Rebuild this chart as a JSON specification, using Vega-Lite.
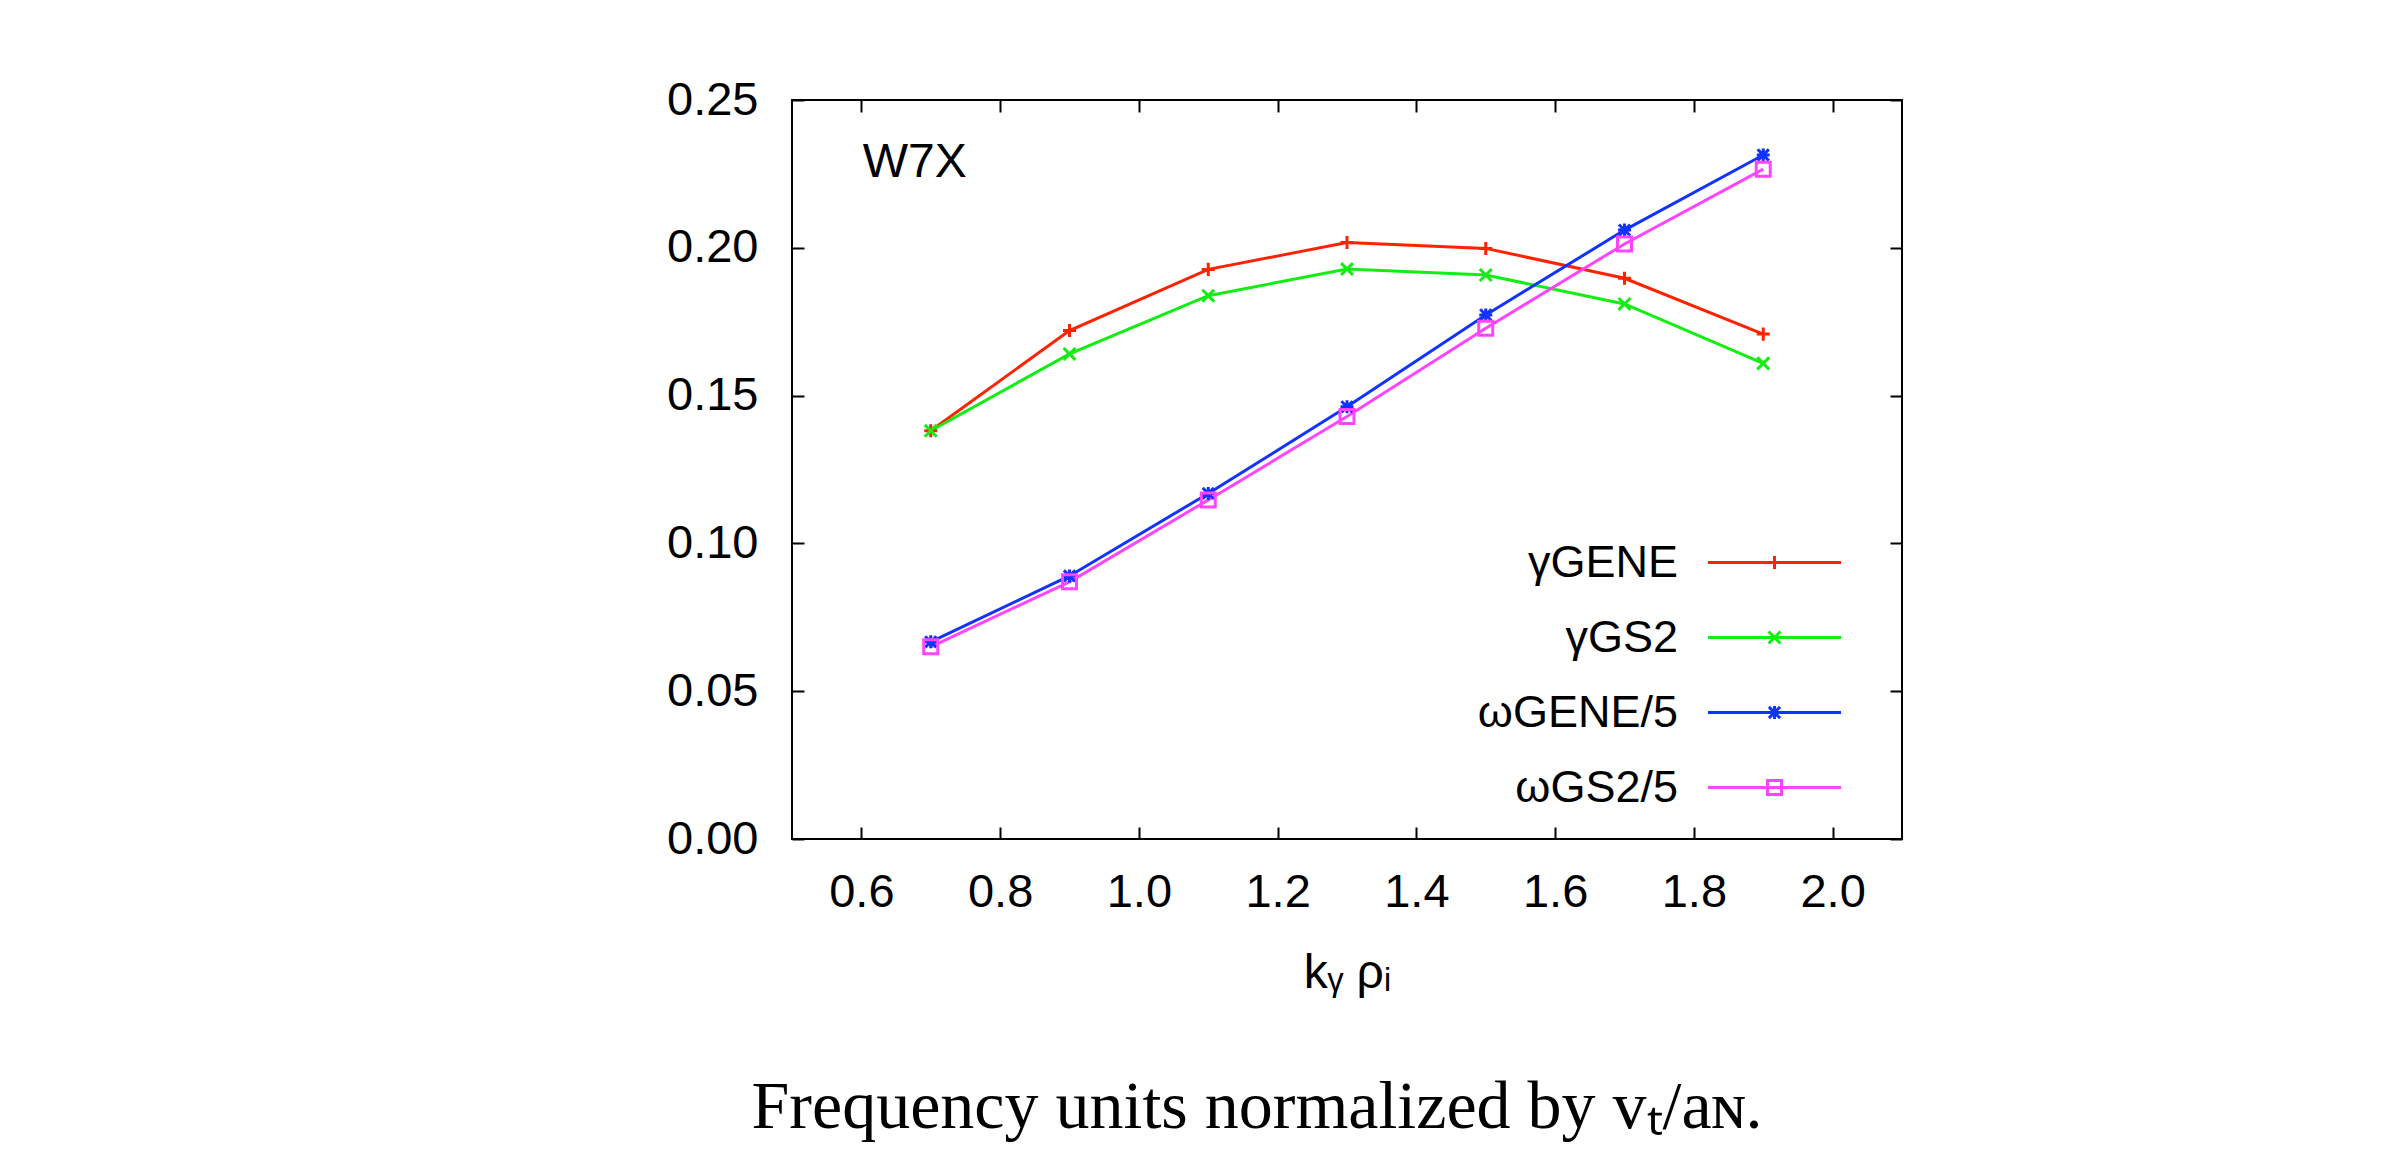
{
  "$schema": "https://vega.github.io/schema/vega-lite/v6.json",
  "width": 1110,
  "height": 739,
  "autosize": {"type": "none"},
  "padding": {"left": 792, "top": 100, "right": 482, "bottom": 310},
  "background": "white",
  "title": {
    "text": "Frequency units normalized by vₜ/aɴ.",
    "orient": "bottom",
    "frame": "group",
    "anchor": "middle",
    "dx": -90,
    "offset": 77,
    "font": "Liberation Serif",
    "fontSize": 68,
    "fontWeight": "normal",
    "color": "black"
  },
  "config": {
    "view": {"stroke": "black", "strokeWidth": 2},
    "axis": {
      "labelFont": "Liberation Sans",
      "titleFont": "Liberation Sans",
      "labelFontSize": 47,
      "titleFontSize": 48,
      "titleFontWeight": "normal",
      "labelColor": "black",
      "titleColor": "black",
      "tickColor": "black",
      "tickWidth": 2,
      "tickSize": -12,
      "domain": false,
      "grid": false
    }
  },
  "datasets": {
    "curves": [
      {"k": 0.7, "v": 0.1381, "series": "γGENE"},
      {"k": 0.9, "v": 0.1720, "series": "γGENE"},
      {"k": 1.1, "v": 0.1927, "series": "γGENE"},
      {"k": 1.3, "v": 0.2018, "series": "γGENE"},
      {"k": 1.5, "v": 0.1998, "series": "γGENE"},
      {"k": 1.7, "v": 0.1897, "series": "γGENE"},
      {"k": 1.9, "v": 0.1708, "series": "γGENE"},
      {"k": 0.7, "v": 0.1381, "series": "γGS2"},
      {"k": 0.9, "v": 0.1641, "series": "γGS2"},
      {"k": 1.1, "v": 0.1838, "series": "γGS2"},
      {"k": 1.3, "v": 0.1928, "series": "γGS2"},
      {"k": 1.5, "v": 0.1908, "series": "γGS2"},
      {"k": 1.7, "v": 0.1810, "series": "γGS2"},
      {"k": 1.9, "v": 0.1609, "series": "γGS2"},
      {"k": 0.7, "v": 0.0667, "series": "ωGENE/5"},
      {"k": 0.9, "v": 0.0890, "series": "ωGENE/5"},
      {"k": 1.1, "v": 0.1169, "series": "ωGENE/5"},
      {"k": 1.3, "v": 0.1462, "series": "ωGENE/5"},
      {"k": 1.5, "v": 0.1773, "series": "ωGENE/5"},
      {"k": 1.7, "v": 0.2060, "series": "ωGENE/5"},
      {"k": 1.9, "v": 0.2314, "series": "ωGENE/5"},
      {"k": 0.7, "v": 0.0650, "series": "ωGS2/5"},
      {"k": 0.9, "v": 0.0870, "series": "ωGS2/5"},
      {"k": 1.1, "v": 0.1147, "series": "ωGS2/5"},
      {"k": 1.3, "v": 0.1429, "series": "ωGS2/5"},
      {"k": 1.5, "v": 0.1728, "series": "ωGS2/5"},
      {"k": 1.7, "v": 0.2013, "series": "ωGS2/5"},
      {"k": 1.9, "v": 0.2266, "series": "ωGS2/5"}
    ],
    "labels": [{"label": "W7X"}]
  },
  "resolve": {"axis": {"x": "independent", "y": "independent"}},
  "layer": [
    {
      "data": {"name": "curves"},
      "mark": {"type": "line", "strokeWidth": 3},
      "encoding": {
        "x": {
          "field": "k", "type": "quantitative",
          "scale": {"domain": [0.5, 2.1], "nice": false, "zero": false},
          "axis": {"orient": "bottom", "values": [0.6, 0.8, 1.0, 1.2, 1.4, 1.6, 1.8, 2.0], "format": ".1f", "labelPadding": 42, "title": "kᵧ ρᵢ", "titlePadding": 34}
        },
        "y": {
          "field": "v", "type": "quantitative",
          "scale": {"domain": [0, 0.25], "nice": false},
          "axis": {"orient": "left", "values": [0, 0.05, 0.1, 0.15, 0.2, 0.25], "format": ".2f", "labelPadding": 46, "title": null}
        },
        "stroke": {
          "field": "series", "type": "nominal",
          "scale": {"range": ["#ff2200", "#11ee11", "#1133ff", "#ff44ff"]},
          "legend": {
            "title": null,
            "orient": "none",
            "legendX": 871,
            "legendY": 440,
            "padding": 0,
            "labelFont": "Liberation Sans",
            "labelFontSize": 45,
            "labelColor": "black",
            "labelOpacity": 0,
            "labelLimit": 1000,
            "labelAlign": "right",
            "labelOffset": -119,
            "symbolOffset": 89,
            "symbolSize": 196,
            "symbolType": "M-9.5,0H9.5",
            "symbolStrokeWidth": 3,
            "rowPadding": 29
          }
        }
      }
    },
    {
      "data": {"name": "curves"},
      "mark": {"type": "point", "filled": false, "strokeWidth": 3, "size": 196, "opacity": 1},
      "encoding": {
        "x": {
          "field": "k", "type": "quantitative",
          "axis": {"orient": "top", "values": [0.6, 0.8, 1.0, 1.2, 1.4, 1.6, 1.8, 2.0], "labels": false, "title": null}
        },
        "y": {
          "field": "v", "type": "quantitative",
          "axis": {"orient": "right", "values": [0, 0.05, 0.1, 0.15, 0.2, 0.25], "labels": false, "title": null}
        },
        "color": {
          "field": "series", "type": "nominal",
          "scale": {"domain": ["γGENE", "γGS2", "ωGENE/5", "ωGS2/5"], "range": ["#ff2200", "#11ee11", "#1133ff", "#ff44ff"]},
          "legend": {
            "title": null,
            "orient": "none",
            "legendX": 871,
            "legendY": 440,
            "padding": 0,
            "labelFont": "Liberation Sans",
            "labelFontSize": 45,
            "labelColor": "black",
            "labelLimit": 1000,
            "labelAlign": "right",
            "labelOffset": -119,
            "symbolOffset": 89,
            "symbolSize": 196,
            "symbolStrokeWidth": 3,
            "rowPadding": 29
          }
        },
        "shape": {
          "field": "series", "type": "nominal",
          "scale": {"domain": ["γGENE", "γGS2", "ωGENE/5", "ωGS2/5"], "range": ["M0,-0.93V0.93M-0.93,0H0.93", "M-0.85,-0.85L0.85,0.85M-0.85,0.85L0.85,-0.85", "M0,-0.93V0.93M-0.93,0H0.93M-0.8,-0.8L0.8,0.8M-0.8,0.8L0.8,-0.8", "square"]},
          "legend": {
            "title": null,
            "orient": "none",
            "legendX": 871,
            "legendY": 440,
            "padding": 0,
            "labelFont": "Liberation Sans",
            "labelFontSize": 45,
            "labelColor": "black",
            "labelLimit": 1000,
            "labelAlign": "right",
            "labelOffset": -119,
            "symbolOffset": 89,
            "symbolSize": 196,
            "symbolStrokeWidth": 3,
            "rowPadding": 29
          }
        }
      }
    },
    {
      "data": {"name": "labels"},
      "mark": {"type": "text", "align": "left", "baseline": "alphabetic", "font": "Liberation Sans", "fontSize": 48, "color": "black"},
      "encoding": {
        "x": {"datum": 0.602, "type": "quantitative", "axis": null},
        "y": {"datum": 0.224, "type": "quantitative", "axis": null},
        "text": {"field": "label"}
      }
    }
  ]
}
